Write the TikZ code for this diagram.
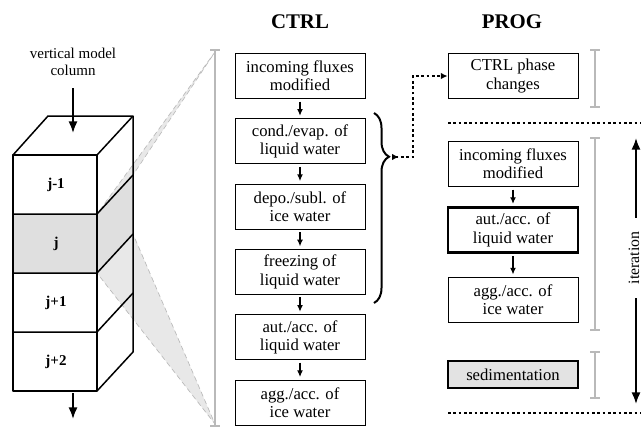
\documentclass[tikz,border=0pt]{standalone}
\usepackage{fontspec}
\setmainfont{Liberation Serif}
\usetikzlibrary{arrows.meta,calc,positioning,decorations.pathreplacing}

\tikzset{
  proc/.style={draw, line width=0.6pt, fill=white, minimum width=78pt, minimum height=27pt,
    inner sep=1pt, align=center, font=\fontsize{10}{11}\selectfont},
  heavy/.style={line width=1.3pt},
  flow/.style={-{Latex[length=4pt,width=3.5pt]}, line width=0.7pt, shorten <=1.5pt, shorten >=1.5pt},
  bigflow/.style={-{Latex[length=7pt,width=5.5pt]}, line width=1.1pt},
  bar/.style={draw=gray!55, line width=1.2pt},
  sepline/.style={line width=1.4pt, dash pattern=on 1.6pt off 1.6pt},
  cube/.style={line width=0.9pt, line join=round},
  funnel/.style={fill=gray!18, draw=gray!55, densely dashed, line width=0.4pt},
  title/.style={font=\bfseries\fontsize{12.5}{14}\selectfont},
}

\begin{document}
\begin{tikzpicture}[x=0.6pt, y=-0.6pt]
\useasboundingbox (0,0) rectangle (641,431);

% zoom wedges
\filldraw[funnel] (97,214) -- (133,175) -- (215,52) -- cycle;
\filldraw[funnel] (97,273) -- (133,234) -- (215,424) -- cycle;

% model column
\fill[gray!25] (13,214) rectangle (97,273);
\fill[gray!25] (97,214) -- (133,175) -- (133,234) -- (97,273) -- cycle;
\draw[cube] (13,155) -- (48,116) -- (133,116) -- (97,155) -- cycle;
\draw[cube] (13,155) rectangle (97,391);
\draw[cube] (97,391) -- (133,352) -- (133,116);
\foreach \y in {214,273,332}
  \draw[cube] (13,\y) -- (97,\y) -- (133,\y-39);
\foreach \t/\y [count=\i] in {j-1/184.5, j/243.5, j+1/302.5, j+2/361.5}
  \node[font=\bfseries\fontsize{9}{10}\selectfont] (lay\i) at (56,\y) {\t};

\node[align=center, font=\fontsize{9}{10.5}\selectfont] (colname) at (73,62) {vertical model\\column};
\coordinate (coltop) at (73,133);
\coordinate (colbot) at (73,419);
\coordinate (colout) at (73,393);
\draw[bigflow] (colname) ++(0,26) -- (coltop);
\draw[bigflow] (colout) -- (colbot);

% gray range bars
\foreach \x/\a/\b in {215/50/426, 595/50/107, 595/138/330, 595/352/398}
{
  \draw[bar] (\x,\a) -- (\x,\b) (\x-5,\a) -- (\x+5,\a) (\x-5,\b) -- (\x+5,\b);
}

% CTRL
\node[title] (ctrl) at (300,22) {CTRL};
\foreach \t [count=\i] in {{incoming fluxes\\modified}, {cond./evap. of\\liquid water},
    {depo./subl. of\\ice water}, {freezing of\\liquid water},
    {aut./acc. of\\liquid water}, {agg./acc. of\\ice water}}
  \node[proc] (c\i) at (300,76+65.3*\i-65.3) {\t};
\foreach \i [evaluate=\i as \j using int(\i+1)] in {1,...,5}
  \draw[flow] (c\i) -- (c\j);

\coordinate (brtop) at (374,113);
\coordinate (brbot) at (374,303);
\draw[line width=1.2pt, decorate, decoration={brace, amplitude=9pt, aspect=0.23}] (brtop) -- (brbot);
\coordinate (brtip) at (392,157);

% PROG
\node[title] (prog) at (512,22) {PROG};
\node[proc] (p1) at (513,76) {CTRL phase\\changes};
\node[proc] (p2) at (513,164) {incoming fluxes\\modified};
\node[proc, heavy] (p3) at (513,230) {aut./acc. of\\liquid water};
\node[proc] (p4) at (513,300) {agg./acc. of\\ice water};
\node[proc, heavy, fill=gray!22, minimum height=16pt] (sedi) at (513,374.5) {sedimentation};
\draw[flow] (p2) -- (p3);
\draw[flow] (p3) -- (p4);

\draw[line width=1.2pt, dash pattern=on 1.6pt off 1.6pt,
  {Latex[reversed,length=4pt,width=4pt]}-{Latex[length=4pt,width=4pt]}] (brtip) -- ++(21,0) |- (p1);

\draw[sepline] (448,123) -- (641,123);
\draw[sepline] (448,413) -- (641,413);

% iteration
\node[rotate=90, inner sep=2pt, font=\fontsize{9.5}{11}\selectfont] (iter) at (634,258) {iteration};
\coordinate (itop) at (636,138);
\coordinate (ibot) at (636,404);
\draw[bigflow, shorten <=6pt] (iter.east -| itop) -- (itop);
\draw[bigflow, shorten <=6pt] (iter.west -| ibot) -- (ibot);
\end{tikzpicture}
\end{document}
